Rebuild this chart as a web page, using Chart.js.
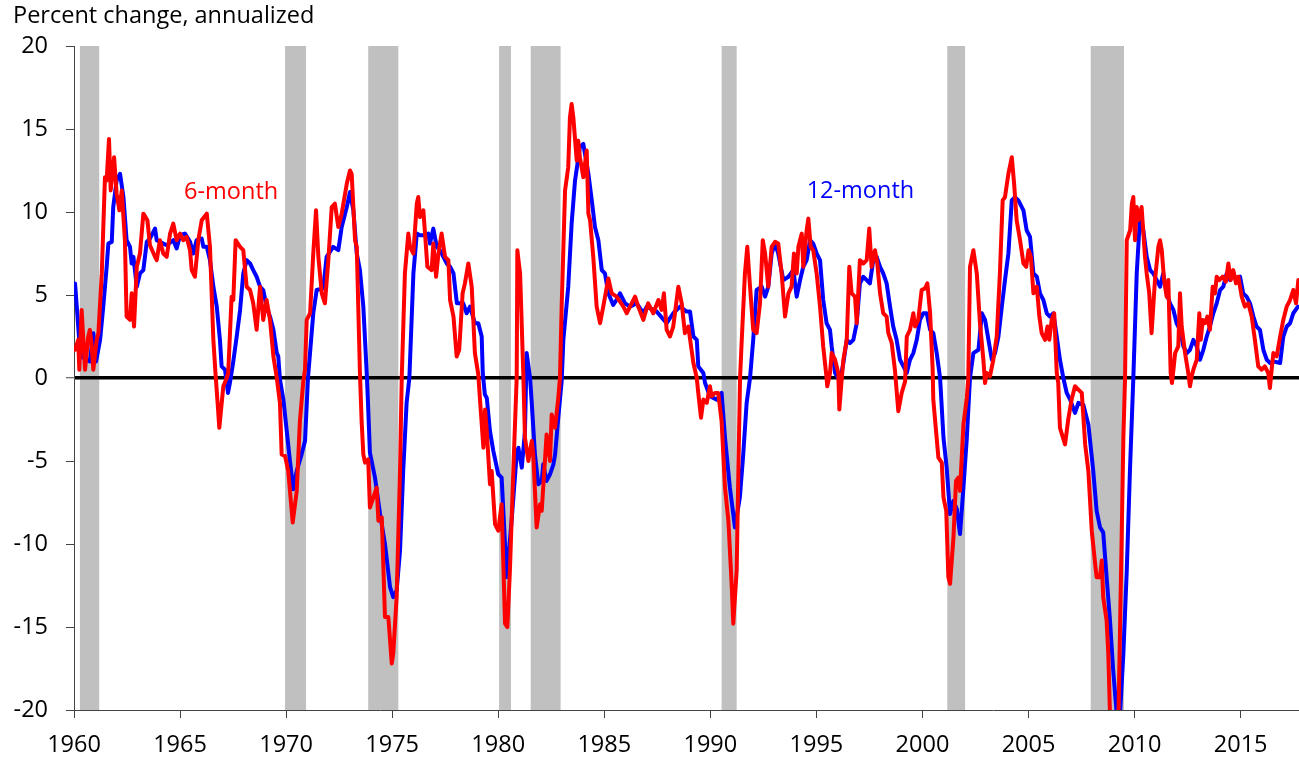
<!DOCTYPE html>
<html><head><meta charset="utf-8">
<script src="https://cdn.jsdelivr.net/npm/chart.js@4.4.0/dist/chart.umd.min.js"></script>
<style>html,body{margin:0;padding:0;background:#fff;overflow:hidden}canvas{display:block}</style>
</head><body>
<canvas id="c" width="1299" height="757"></canvas>
<script>
// ---------- data ----------
const m12Years = [1960.05,1960.28,1960.44,1960.75,1960.91,1961.04,1961.23,1961.38,1961.54,1961.62,1961.78,1961.85,1962.01,1962.17,1962.33,1962.48,1962.64,1962.72,1962.80,1962.96,1963.11,1963.27,1963.43,1963.58,1963.82,1963.90,1964.05,1964.37,1964.68,1964.84,1965.00,1965.23,1965.47,1965.62,1965.78,1966.02,1966.10,1966.26,1966.41,1966.57,1966.73,1966.88,1966.96,1967.12,1967.26,1967.35,1967.51,1967.67,1967.83,1967.98,1968.14,1968.30,1968.45,1968.61,1968.77,1968.92,1969.08,1969.24,1969.40,1969.56,1969.63,1969.71,1969.87,1970.03,1970.18,1970.34,1970.50,1970.73,1970.89,1971.03,1971.28,1971.44,1971.75,1971.91,1972.22,1972.46,1972.62,1972.86,1973.01,1973.17,1973.33,1973.48,1973.64,1973.80,1973.86,1973.95,1974.19,1974.43,1974.66,1974.90,1975.05,1975.21,1975.37,1975.52,1975.68,1975.81,1976.00,1976.16,1976.31,1976.47,1976.70,1976.78,1976.94,1977.10,1977.25,1977.57,1977.73,1977.89,1978.05,1978.35,1978.51,1978.67,1978.90,1979.06,1979.22,1979.27,1979.37,1979.46,1979.61,1979.77,1980.00,1980.16,1980.40,1980.63,1980.87,1980.95,1981.11,1981.26,1981.34,1981.50,1981.58,1981.73,1981.89,1982.05,1982.12,1982.28,1982.44,1982.60,1982.68,1982.83,1982.99,1983.07,1983.30,1983.46,1983.62,1983.85,1984.01,1984.09,1984.25,1984.41,1984.56,1984.72,1984.88,1985.03,1985.19,1985.42,1985.58,1985.74,1985.98,1986.21,1986.53,1986.84,1987.00,1987.47,1987.94,1988.25,1988.57,1988.88,1989.04,1989.20,1989.36,1989.43,1989.67,1989.75,1989.98,1990.30,1990.53,1990.69,1990.92,1991.16,1991.39,1991.55,1991.71,1991.87,1992.02,1992.18,1992.42,1992.58,1992.73,1992.89,1993.05,1993.20,1993.44,1993.68,1993.91,1994.07,1994.23,1994.38,1994.54,1994.70,1994.85,1995.01,1995.17,1995.32,1995.48,1995.64,1995.72,1995.88,1996.11,1996.27,1996.43,1996.58,1996.74,1996.90,1997.05,1997.21,1997.37,1997.52,1997.68,1997.84,1998.00,1998.15,1998.31,1998.47,1998.62,1998.78,1998.94,1999.10,1999.26,1999.41,1999.57,1999.73,1999.88,2000.04,2000.20,2000.36,2000.51,2000.67,2000.83,2000.99,2001.14,2001.30,2001.46,2001.62,2001.77,2001.93,2002.09,2002.24,2002.40,2002.64,2002.80,2002.95,2003.11,2003.27,2003.42,2003.58,2003.74,2003.89,2004.05,2004.21,2004.36,2004.52,2004.76,2004.91,2005.07,2005.23,2005.39,2005.54,2005.70,2005.86,2006.01,2006.17,2006.33,2006.48,2006.64,2006.80,2006.96,2007.19,2007.35,2007.58,2007.82,2008.05,2008.21,2008.37,2008.52,2008.68,2008.84,2008.99,2009.16,2009.29,2009.47,2009.63,2009.78,2009.94,2010.10,2010.26,2010.41,2010.57,2010.73,2010.88,2011.04,2011.20,2011.35,2011.51,2011.67,2011.83,2011.98,2012.14,2012.30,2012.46,2012.61,2012.77,2012.93,2013.08,2013.24,2013.40,2013.55,2013.71,2013.87,2014.03,2014.18,2014.34,2014.50,2014.65,2014.81,2014.97,2015.12,2015.28,2015.44,2015.60,2015.75,2015.91,2016.07,2016.23,2016.39,2016.54,2016.86,2017.01,2017.17,2017.33,2017.48,2017.70];
const m12Values = [5.7,1.7,1.2,1.0,2.7,1.0,2.3,4.3,6.7,8.1,8.2,10.3,11.9,12.3,10.9,8.3,7.9,6.9,7.3,5.5,6.3,6.5,8.2,8.4,9.0,8.3,8.2,8.0,8.3,7.8,8.6,8.7,8.2,7.5,8.3,8.4,7.9,7.9,7.1,5.5,4.3,2.3,0.7,0.5,-0.9,-0.3,1.0,2.5,4.1,6.3,7.1,6.9,6.5,6.1,5.5,5.3,4.3,3.7,2.9,1.5,1.3,-0.1,-1.3,-3.2,-5.0,-6.7,-5.6,-4.6,-3.8,0.0,3.9,5.3,5.4,7.3,7.9,7.7,9.1,10.3,11.2,10.1,7.5,6.5,4.3,0.3,-1.5,-4.5,-6.0,-8.2,-10.0,-12.6,-13.2,-12.8,-10.4,-5.6,-1.5,0.0,6.3,8.7,8.6,8.6,8.7,8.1,9.0,7.9,7.7,6.9,6.7,6.3,4.5,4.5,3.9,4.3,3.3,3.3,2.5,0.3,-1.0,-1.2,-3.2,-4.4,-5.8,-6.0,-12.0,-8.6,-4.6,-4.2,-5.4,-3.2,1.5,0.0,-1.5,-4.6,-6.4,-6.2,-5.2,-6.2,-5.8,-5.2,-4.6,-2.4,-0.2,2.3,5.5,9.3,11.9,13.9,14.1,13.5,12.3,10.7,9.1,8.3,6.5,6.3,5.1,4.4,4.7,5.1,4.5,4.3,4.5,3.9,4.3,4.0,3.3,3.9,4.3,4.0,4.0,2.5,2.3,0.7,0.3,-0.3,-1.1,-1.3,-0.9,-3.6,-6.6,-9.0,-7.2,-4.6,-1.5,0.0,2.3,5.3,5.5,4.9,5.5,7.5,8.1,7.5,5.9,6.1,6.5,4.9,5.9,6.7,7.1,8.3,8.1,7.5,7.1,4.7,3.3,2.9,1.9,0.3,-0.2,0.9,2.3,2.1,2.3,3.3,5.7,6.1,5.9,5.7,7.1,7.3,6.7,6.3,5.7,4.3,3.1,2.3,1.1,0.7,0.3,1.1,1.5,2.3,3.5,3.9,3.9,2.9,2.7,1.5,0.0,-3.6,-5.4,-8.2,-7.4,-7.9,-9.4,-6.6,-3.6,0.0,1.5,1.7,3.9,3.5,2.3,1.1,1.5,2.5,4.3,5.9,7.5,10.7,10.9,10.7,10.1,8.9,8.5,6.3,6.1,5.1,4.7,3.9,3.7,3.9,2.5,1.1,0.0,-0.9,-1.3,-2.1,-1.5,-1.6,-2.8,-5.6,-8.0,-9.0,-9.3,-12.0,-14.6,-17.6,-20.3,-20.8,-16.6,-11.6,-5.6,0.0,6.3,9.8,8.9,7.3,6.5,6.3,5.9,5.5,6.3,5.1,4.5,4.1,3.3,2.9,1.9,1.5,1.7,2.3,1.9,1.1,1.7,2.5,3.1,3.9,4.5,5.3,5.5,6.3,5.9,6.3,5.9,6.1,5.1,4.9,4.5,3.7,3.1,2.9,1.7,1.1,0.9,1.0,0.9,2.5,3.1,3.3,3.9,4.3];

const m6Years = [1960.05,1960.20,1960.25,1960.36,1960.44,1960.52,1960.67,1960.75,1960.83,1960.91,1961.07,1961.15,1961.31,1961.46,1961.54,1961.65,1961.73,1961.89,1962.01,1962.14,1962.25,1962.40,1962.48,1962.64,1962.72,1962.83,1962.96,1963.11,1963.27,1963.46,1963.58,1963.82,1963.90,1964.05,1964.21,1964.37,1964.53,1964.68,1964.84,1965.00,1965.15,1965.31,1965.47,1965.55,1965.70,1965.86,1966.02,1966.26,1966.41,1966.57,1966.67,1966.77,1966.85,1967.04,1967.20,1967.27,1967.43,1967.51,1967.62,1967.83,1967.98,1968.14,1968.30,1968.45,1968.61,1968.77,1968.92,1969.08,1969.24,1969.40,1969.56,1969.71,1969.79,1969.95,1970.10,1970.31,1970.50,1970.65,1970.81,1970.89,1970.97,1971.13,1971.28,1971.41,1971.52,1971.68,1971.83,1971.99,1972.15,1972.30,1972.46,1972.62,1972.86,1973.01,1973.09,1973.25,1973.33,1973.48,1973.56,1973.64,1973.72,1973.87,1973.95,1974.11,1974.27,1974.35,1974.51,1974.66,1974.82,1974.98,1975.05,1975.21,1975.37,1975.45,1975.60,1975.76,1975.84,1976.00,1976.16,1976.23,1976.31,1976.47,1976.66,1976.86,1976.94,1977.07,1977.18,1977.33,1977.49,1977.65,1977.73,1977.89,1978.04,1978.16,1978.32,1978.43,1978.59,1978.75,1978.90,1979.06,1979.14,1979.30,1979.38,1979.46,1979.61,1979.69,1979.85,1980.00,1980.16,1980.32,1980.43,1980.55,1980.71,1980.87,1980.90,1981.03,1981.18,1981.26,1981.42,1981.58,1981.65,1981.81,1981.97,1982.05,1982.28,1982.44,1982.52,1982.68,1982.83,1982.91,1982.99,1983.15,1983.30,1983.38,1983.46,1983.54,1983.70,1983.77,1983.85,1984.01,1984.17,1984.25,1984.33,1984.48,1984.64,1984.80,1984.95,1985.19,1985.35,1985.58,1985.90,1986.06,1986.21,1986.45,1986.60,1986.84,1987.07,1987.31,1987.55,1987.70,1987.81,1987.94,1988.10,1988.25,1988.49,1988.65,1988.80,1988.96,1989.20,1989.36,1989.43,1989.56,1989.67,1989.83,1989.98,1990.06,1990.22,1990.37,1990.53,1990.69,1990.85,1991.01,1991.08,1991.24,1991.32,1991.40,1991.48,1991.63,1991.74,1991.87,1992.02,1992.18,1992.34,1992.47,1992.58,1992.73,1992.89,1993.05,1993.20,1993.36,1993.52,1993.68,1993.83,1993.94,1994.07,1994.15,1994.31,1994.38,1994.54,1994.62,1994.73,1994.85,1995.01,1995.17,1995.32,1995.48,1995.51,1995.64,1995.72,1995.88,1996.03,1996.08,1996.19,1996.27,1996.43,1996.55,1996.66,1996.82,1996.90,1997.05,1997.21,1997.37,1997.49,1997.60,1997.76,1997.87,1998.00,1998.15,1998.31,1998.39,1998.55,1998.70,1998.86,1999.02,1999.18,1999.26,1999.41,1999.57,1999.65,1999.80,1999.96,2000.12,2000.23,2000.36,2000.48,2000.51,2000.75,2000.91,2000.99,2001.12,2001.22,2001.30,2001.46,2001.58,2001.69,2001.77,2001.93,2002.09,2002.16,2002.24,2002.40,2002.56,2002.71,2002.87,2002.95,2003.03,2003.18,2003.34,2003.50,2003.65,2003.78,2003.89,2004.05,2004.21,2004.32,2004.44,2004.60,2004.76,2004.89,2005.00,2005.11,2005.23,2005.39,2005.51,2005.62,2005.78,2005.89,2005.98,2006.09,2006.21,2006.33,2006.40,2006.48,2006.72,2006.87,2007.03,2007.19,2007.35,2007.51,2007.67,2007.82,2007.98,2008.14,2008.21,2008.37,2008.45,2008.52,2008.68,2008.76,2008.84,2008.98,2009.12,2009.23,2009.39,2009.47,2009.55,2009.63,2009.79,2009.87,2009.94,2010.02,2010.10,2010.17,2010.33,2010.49,2010.57,2010.69,2010.80,2010.96,2011.12,2011.20,2011.28,2011.39,2011.51,2011.59,2011.70,2011.76,2011.83,2011.91,2012.06,2012.14,2012.22,2012.38,2012.53,2012.61,2012.69,2012.77,2012.93,2013.05,2013.12,2013.21,2013.32,2013.43,2013.55,2013.68,2013.79,2013.87,2013.99,2014.15,2014.30,2014.42,2014.53,2014.65,2014.78,2014.89,2015.05,2015.20,2015.36,2015.52,2015.67,2015.83,2015.99,2016.14,2016.30,2016.38,2016.46,2016.54,2016.70,2016.86,2017.01,2017.17,2017.33,2017.48,2017.61,2017.72];
const m6Values = [1.7,2.3,0.5,4.1,2.3,0.5,2.5,2.9,2.0,0.5,2.3,2.7,6.3,12.1,11.9,14.4,11.3,13.3,11.1,10.1,11.3,8.3,3.7,3.5,5.1,3.1,6.7,7.5,9.9,9.5,8.0,7.3,7.1,8.3,7.5,7.3,8.7,9.3,8.3,8.7,8.3,8.5,7.7,6.5,6.1,8.3,9.5,9.9,7.9,2.3,0.3,-1.5,-3.0,-0.5,0.0,0.3,4.9,4.7,8.3,7.9,7.7,5.5,5.3,4.5,2.9,5.5,3.5,4.7,3.5,1.3,0.0,-1.5,-4.6,-4.7,-5.6,-8.7,-6.8,-2.6,-0.2,0.5,3.5,3.9,7.5,10.1,7.3,5.1,4.5,7.1,10.3,10.5,9.1,9.9,11.7,12.5,12.3,8.3,7.9,0.3,-2.6,-4.6,-5.1,-4.9,-7.8,-7.2,-6.6,-8.6,-8.4,-14.4,-14.4,-17.2,-16.6,-13.2,-5.6,0.0,6.3,8.7,7.9,7.5,10.5,10.9,9.7,10.1,6.7,6.5,8.1,6.1,7.5,8.7,7.3,7.1,4.7,3.7,1.3,1.7,5.1,5.7,6.9,5.5,1.5,0.2,-1.3,-4.2,-1.9,-3.2,-6.4,-5.6,-8.8,-9.2,-7.6,-14.8,-15.0,-11.6,-5.6,0.0,7.7,6.3,0.3,-3.6,-5.0,-3.8,-4.6,-9.0,-7.6,-8.0,-3.4,-5.0,-2.2,-3.0,-1.2,0.0,4.3,11.3,12.7,15.7,16.5,15.7,13.1,14.3,13.3,12.1,13.7,9.9,9.5,7.3,4.3,3.3,4.3,6.0,5.1,4.9,4.3,3.9,4.3,4.9,4.3,3.5,4.5,3.9,4.7,4.1,5.1,2.9,2.5,3.1,5.5,4.5,2.7,3.1,0.9,0.0,-0.9,-2.4,-1.3,-1.5,-0.5,-1.1,-0.9,-0.9,-2.6,-6.6,-8.6,-12.6,-14.8,-11.6,-5.6,0.0,2.3,6.3,7.9,5.5,2.9,2.7,4.5,8.3,7.5,5.5,7.9,8.2,8.1,6.3,3.7,5.1,5.5,7.5,6.3,7.9,8.7,6.7,8.9,9.6,7.9,7.7,6.3,4.3,1.9,0.0,-0.5,0.3,1.5,1.1,0.3,-1.9,-0.1,1.1,2.3,6.7,5.1,4.9,3.3,7.1,6.9,7.1,9.0,6.7,7.7,6.9,5.1,3.9,3.7,2.7,2.1,0.5,-2.0,-0.9,-0.2,2.5,2.9,3.9,3.1,3.5,5.3,5.4,5.7,3.9,0.5,-1.3,-4.8,-5.1,-7.2,-8.0,-12.0,-12.4,-9.6,-6.2,-6.0,-6.8,-2.8,-1.2,0.0,6.7,7.7,6.3,3.3,1.1,-0.3,0.3,0.1,1.1,2.5,6.3,10.7,10.9,12.3,13.3,11.7,9.5,8.3,6.9,6.7,7.7,7.3,5.1,5.5,3.7,2.7,2.3,3.1,2.3,3.5,3.9,0.3,-0.3,-3.0,-4.0,-2.5,-1.3,-0.5,-0.7,-0.9,-4.0,-5.6,-9.2,-11.2,-12.0,-12.0,-11.0,-13.2,-14.6,-16.6,-20.3,-23.0,-24.0,-21.0,-9.6,-3.6,0.0,8.3,8.9,10.5,10.9,8.3,10.3,9.5,10.3,7.3,6.3,5.1,2.7,5.9,7.9,8.3,7.7,5.9,4.9,5.9,0.3,-0.3,0.5,1.5,1.9,5.1,3.1,1.5,0.3,-0.5,0.1,0.5,1.1,3.9,2.3,3.5,3.3,3.7,2.9,5.5,5.1,6.1,5.9,6.1,5.8,6.9,5.9,6.5,5.7,6.1,4.9,4.3,4.5,3.7,2.3,0.7,0.5,0.7,0.3,-0.6,0.5,1.5,1.3,2.5,3.5,4.3,4.7,5.3,4.5,5.9];

const recessionStarts = [1960.28, 1969.95, 1973.87, 1980.04, 1981.53, 1990.53, 2001.17, 2007.93];
const recessionEnds   = [1961.19, 1970.94, 1975.29, 1980.60, 1982.94, 1991.24, 2002.01, 2009.50];

const xTickYears = [1960,1965,1970,1975,1980,1985,1990,1995,2000,2005,2010,2015];
const yTickValues = [-20,-15,-10,-5,0,5,10,15,20];
const axisTitle = 'Percent change, annualized';
const seriesNames = ['6-month', '12-month'];

// ---------- styling ----------
const FONT = '"Open Sans", sans-serif';
const FS = 23.5;
const RED = '#FF0000', BLUE = '#0000FF', AXIS = '#444444';
const labelAnchors = [
  {x: 1965.19, y: 11.2, color: RED},
  {x: 1994.54, y: 11.25, color: BLUE}
];

const toPoints = (xs, ys) => xs.map((x, i) => ({x, y: ys[i]}));

const recessionPlugin = {
  id: 'recessions',
  beforeDraw(chart) {
    const {ctx, chartArea, scales} = chart;
    const xs = scales.x;
    ctx.save();
    ctx.fillStyle = '#C0C0C0';
    recessionStarts.forEach((s, i) => {
      const x0 = xs.getPixelForValue(s);
      const x1 = xs.getPixelForValue(recessionEnds[i]);
      ctx.fillRect(x0, chartArea.top, x1 - x0, chartArea.bottom - chartArea.top);
    });
    ctx.restore();
  }
};

const seriesLabelPlugin = {
  id: 'seriesLabels',
  afterDatasetsDraw(chart) {
    const {ctx, scales} = chart;
    ctx.save();
    ctx.font = `${FS}px ${FONT}`;
    ctx.textAlign = 'left';
    ctx.textBaseline = 'middle';
    labelAnchors.forEach((a, i) => {
      ctx.fillStyle = a.color;
      ctx.fillText(seriesNames[i], scales.x.getPixelForValue(a.x), scales.y.getPixelForValue(a.y));
    });
    ctx.restore();
  }
};

Chart.defaults.font.family = FONT;
Chart.defaults.font.size = FS;
Chart.defaults.color = '#000';

new Chart(document.getElementById('c'), {
  type: 'line',
  data: {
    datasets: [
      {label: seriesNames[0], data: toPoints(m6Years, m6Values), borderColor: RED, borderWidth: 4,
       pointRadius: 0, tension: 0, borderJoinStyle: 'round', borderCapStyle: 'round', clip: 0},
      {label: seriesNames[1], data: toPoints(m12Years, m12Values), borderColor: BLUE, borderWidth: 4,
       pointRadius: 0, tension: 0, borderJoinStyle: 'round', borderCapStyle: 'round', clip: 0}
    ]
  },
  options: {
    responsive: false,
    animation: false,
    devicePixelRatio: 1,
    parsing: false,
    normalized: true,
    layout: {padding: {left: 13, right: 0, top: 0, bottom: 0}},
    plugins: {
      legend: {display: false},
      tooltip: {enabled: false},
      title: {
        display: true, text: axisTitle, align: 'start', color: '#000',
        font: {family: FONT, size: FS, weight: 'normal', lineHeight: 1.2},
        padding: {top: 2.4, bottom: 15.4}
      }
    },
    scales: {
      x: {
        type: 'linear', min: 1960, max: 2017.75,
        afterBuildTicks: s => { s.ticks = xTickYears.map(v => ({value: v})); },
        afterFit: s => { s.height = 47; },
        ticks: {padding: 13, color: '#000', font: {family: FONT, size: FS}, callback: v => String(v), maxRotation: 0, autoSkip: false},
        grid: {drawOnChartArea: false, drawTicks: true, tickLength: 8, color: AXIS, lineWidth: 1},
        border: {display: true, color: AXIS, width: 1}
      },
      y: {
        type: 'linear', min: -20, max: 20,
        afterBuildTicks: s => { s.ticks = yTickValues.map(v => ({value: v})); },
        afterFit: s => { s.width = 61; },
        ticks: {padding: 18, color: '#000', font: {family: FONT, size: FS}, callback: v => String(v)},
        grid: {
          drawOnChartArea: true, drawTicks: true, tickLength: 8,
          color: c => (c.tick && c.tick.value === 0) ? '#000' : 'rgba(0,0,0,0)',
          lineWidth: c => (c.tick && c.tick.value === 0) ? 3.5 : 1,
          tickColor: AXIS, tickWidth: 1
        },
        border: {display: true, color: AXIS, width: 1}
      }
    }
  },
  plugins: [recessionPlugin, seriesLabelPlugin]
});
</script>
</body></html>
